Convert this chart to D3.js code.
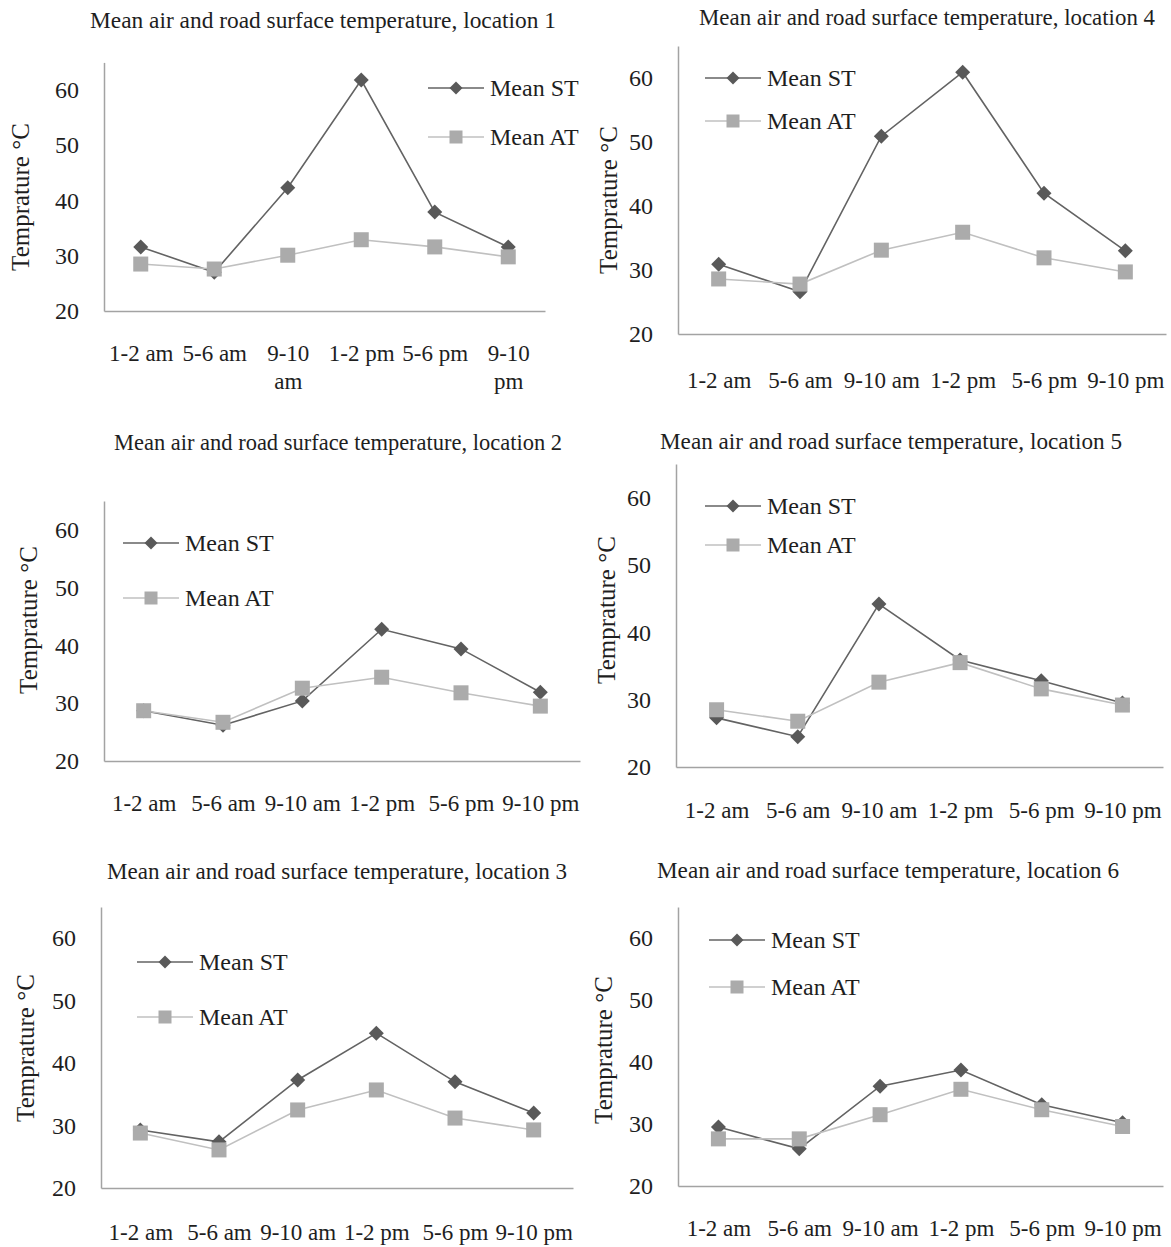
<!DOCTYPE html>
<html>
<head>
<meta charset="utf-8">
<script src="https://cdn.jsdelivr.net/npm/d3@7"></script>
<style>
  html, body { margin: 0; padding: 0; background: #fff; }
  svg { display: block; }
  text { font-family: "Liberation Serif", "Times New Roman", serif; fill: #1e1e1e; }
</style>
</head>
<body>
<svg id="chart" width="1171" height="1247"></svg>
<script>
// ---------- data ----------
const categories = ["1-2 am", "5-6 am", "9-10 am", "1-2 pm", "5-6 pm", "9-10 pm"];
const yTicks = [20, 30, 40, 50, 60];
const yDomain = [20, 65];
const seriesNames = ["Mean ST", "Mean AT"];
const titles = [
  "Mean air and road surface temperature, location 1",
  "Mean air and road surface temperature, location 4",
  "Mean air and road surface temperature, location 2",
  "Mean air and road surface temperature, location 5",
  "Mean air and road surface temperature, location 3",
  "Mean air and road surface temperature, location 6"
];
const yTitle = "Temprature °C";

const st1 = [31.6, 27.0, 42.3, 61.8, 37.9, 31.6];
const at1 = [28.5, 27.6, 30.1, 32.9, 31.6, 29.8];
const st4 = [30.9, 26.6, 50.9, 60.9, 42.0, 33.0];
const at4 = [28.6, 27.8, 33.1, 35.9, 31.9, 29.7];
const st2 = [28.7, 26.2, 30.4, 42.8, 39.4, 31.9];
const at2 = [28.7, 26.7, 32.6, 34.5, 31.8, 29.5];
const st5 = [27.3, 24.5, 44.2, 35.9, 32.8, 29.5];
const at5 = [28.5, 26.8, 32.6, 35.5, 31.6, 29.2];
const st3 = [29.3, 27.4, 37.3, 44.8, 37.0, 32.0];
const at3 = [28.8, 26.1, 32.5, 35.7, 31.2, 29.3];
const st6 = [29.5, 26.0, 36.1, 38.7, 33.1, 30.2];
const at6 = [27.6, 27.6, 31.5, 35.6, 32.3, 29.6];

const panelData = [[st1, at1], [st4, at4], [st2, at2], [st5, at5], [st3, at3], [st6, at6]];

// ---------- layout (positions only) ----------
const layout = [
  {left:104, right:545,  top:62.4, bottom:311,  tx:323, ty:20,  tw:466, lx:428, ly:[88,137],   yx:20,  yy:197,  lab:42, wrap:true},
  {left:678, right:1166, top:46,   bottom:334,  tx:927, ty:17,  tw:456, lx:705, ly:[78,121],   yx:608, yy:200,  lab:46, wrap:false},
  {left:104, right:580,  top:501,  bottom:761,  tx:338, ty:442, tw:448, lx:123, ly:[543,598],  yx:28,  yy:620,  lab:42, wrap:false},
  {left:676, right:1163, top:464,  bottom:767,  tx:891, ty:441, tw:462, lx:705, ly:[506,545],  yx:606, yy:610,  lab:43, wrap:false},
  {left:101, right:573,  top:907,  bottom:1188, tx:337, ty:871, tw:460, lx:137, ly:[962,1017], yx:25,  yy:1048, lab:44, wrap:false},
  {left:678, right:1163, top:907,  bottom:1186, tx:888, ty:870, tw:462, lx:709, ly:[940,987],  yx:603, yy:1050, lab:42, wrap:false}
];

const colST = "#595959", colSTLine = "#636363";
const colAT = "#ababab", colATLine = "#c0c0c0";
const axisCol = "#a3a3a3";
const fontStack = '"Liberation Serif", "Times New Roman", serif';

const svg = d3.select("#chart");
const diamond = s => `M0,${-s}L${s},0L0,${s}L${-s},0Z`;

layout.forEach((L, i) => {
  const g = svg.append("g");
  const [st, at] = panelData[i];
  const x = d3.scalePoint().domain(categories).range([L.left, L.right]).padding(0.5);
  const y = d3.scaleLinear().domain(yDomain).range([L.bottom, L.top]);
  const band = (L.right - L.left) / categories.length;

  // title (fitted to the reference's width)
  g.append("text").attr("x", L.tx).attr("y", L.ty)
    .attr("dy", "0.35em").attr("text-anchor", "middle")
    .attr("textLength", L.tw).attr("lengthAdjust", "spacingAndGlyphs")
    .style("font-size", "23px").text(titles[i]);

  // y axis
  const ya = g.append("g").attr("transform", `translate(${L.left},0)`)
    .call(d3.axisLeft(y).tickValues(yTicks).tickSize(0).tickSizeOuter(0).tickPadding(25));
  ya.select(".domain").attr("stroke", axisCol).attr("stroke-width", 1.5);
  ya.selectAll("text").style("font-size", "24px").attr("fill", "#1e1e1e")
    .style("font-family", fontStack);

  // x axis
  const xa = g.append("g").attr("transform", `translate(0,${L.bottom})`)
    .call(d3.axisBottom(x).tickSize(0).tickSizeOuter(0));
  xa.select(".domain").attr("stroke", axisCol).attr("stroke-width", 1.5);
  xa.selectAll("text").style("font-size", "23px").attr("fill", "#1e1e1e")
    .style("font-family", fontStack)
    .attr("y", L.lab).attr("dy", "0.35em")
    .each(function(d) {
      const t = d3.select(this);
      if (L.wrap && this.getComputedTextLength() > band - 2 && d.indexOf(" ") > 0) {
        const parts = [d.slice(0, d.lastIndexOf(" ")), d.slice(d.lastIndexOf(" ") + 1)];
        t.text(null);
        parts.forEach((p, k) => t.append("tspan").attr("x", 0)
          .attr("dy", k === 0 ? "0.35em" : "1.2em").text(p));
      }
    });

  // y title
  g.append("text").attr("transform", `translate(${L.yx},${L.yy}) rotate(-90)`)
    .attr("text-anchor", "middle").attr("dy", "0.35em")
    .style("font-size", "25px").attr("fill", "#2a2a2a").text(yTitle);

  const line = d3.line().x((d, k) => x(categories[k])).y(d => y(d));

  // Mean ST
  g.append("path").datum(st).attr("d", line).attr("fill", "none")
    .attr("stroke", colSTLine).attr("stroke-width", 1.6);
  g.selectAll(".dst").data(st).join("path").attr("class", "dst")
    .attr("transform", (d, k) => `translate(${x(categories[k])},${y(d)})`)
    .attr("d", diamond(7.5)).attr("fill", colST);

  // Mean AT
  g.append("path").datum(at).attr("d", line).attr("fill", "none")
    .attr("stroke", colATLine).attr("stroke-width", 1.6);
  g.selectAll(".sat").data(at).join("rect").attr("class", "sat")
    .attr("x", (d, k) => x(categories[k]) - 7.5).attr("y", d => y(d) - 7.5)
    .attr("width", 15).attr("height", 15).attr("fill", colAT);

  // legend
  seriesNames.forEach((name, k) => {
    const ly = L.ly[k];
    const lg = g.append("g");
    lg.append("line").attr("x1", L.lx).attr("x2", L.lx + 56).attr("y1", ly).attr("y2", ly)
      .attr("stroke", k === 0 ? colSTLine : colATLine).attr("stroke-width", 1.6);
    if (k === 0) {
      lg.append("path").attr("transform", `translate(${L.lx + 28},${ly})`)
        .attr("d", diamond(6.5)).attr("fill", colST);
    } else {
      lg.append("rect").attr("x", L.lx + 28 - 6.5).attr("y", ly - 6.5)
        .attr("width", 13).attr("height", 13).attr("fill", colAT);
    }
    lg.append("text").attr("x", L.lx + 62).attr("y", ly)
      .attr("dy", "0.35em").style("font-size", "24px").text(name);
  });
});
</script>
</body>
</html>
